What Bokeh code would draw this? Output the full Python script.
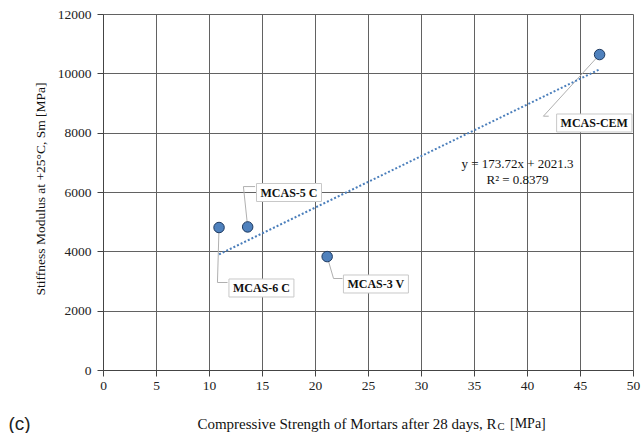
from bokeh.plotting import figure
from bokeh.layouts import column, row
from bokeh.models import Range1d, FixedTicker, Label
from bokeh.embed import file_html
from bokeh.resources import INLINE

# ---- data ----
names = ["MCAS-6 C", "MCAS-5 C", "MCAS-3 V", "MCAS-CEM"]
strength = [10.9, 13.6, 21.1, 46.8]          # Rc [MPa]
modulus = [4820, 4840, 3840, 10650]          # Sm [MPa]
slope = 173.72
intercept = 2021.3
r2 = 0.8379
x_ticks = [0, 5, 10, 15, 20, 25, 30, 35, 40, 45, 50]
y_ticks = [0, 2000, 4000, 6000, 8000, 10000, 12000]
x_title = "Compressive Strength of Mortars after 28 days, R"
x_title_sub = "C"
x_title_unit = "[MPa]"
y_title = "Stiffness Modulus at +25°C, Sm [MPa]"
tag = "(c)"

# ---- label layout (data coords) ----
label_pos = [(14.9, 2781), (17.5, 6000), (25.7, 2916), (46.3, 8343)]
leader_paths = [
    [(10.75, 2966), (11.7, 2966)],
    [(13.2, 6200), (14.3, 6200)],
    [(21.7, 3101), (22.55, 3101)],
    [(41.5, 8572), (42.0, 8572)],
]

SERIF = "Liberation Serif"
GRID = "#626262"
TXT = "#111111"

# ---------------- main plot ----------------
p = figure(width=590, height=400, output_backend="svg", toolbar_location=None,
           x_range=Range1d(0, 50), y_range=Range1d(0, 12000),
           min_border_left=51, min_border_right=9, min_border_top=14, min_border_bottom=30)
p.background_fill_color = "white"
p.border_fill_color = "white"
p.outline_line_color = GRID
p.outline_line_width = 1

for ax in (p.xaxis[0], p.yaxis[0]):
    ax.major_label_text_font = SERIF
    ax.major_label_text_font_size = "13.5px"
    ax.major_label_text_color = "#222222"
    ax.axis_line_color = "#444444"
    ax.major_tick_line_color = "#444444"
    ax.major_tick_in = 0
    ax.major_tick_out = 6
    ax.minor_tick_line_color = None
p.xaxis[0].major_label_standoff = 5
p.yaxis[0].major_label_standoff = 6

p.xaxis[0].ticker = FixedTicker(ticks=x_ticks)
p.yaxis[0].ticker = FixedTicker(ticks=y_ticks)
p.xgrid[0].ticker = FixedTicker(ticks=x_ticks)
p.ygrid[0].ticker = FixedTicker(ticks=y_ticks)
p.xgrid.grid_line_color = GRID
p.ygrid.grid_line_color = GRID
p.xgrid.grid_line_width = 1
p.ygrid.grid_line_width = 1

# leader lines (from each point to its label)
for (px, py), path in zip(zip(strength, modulus), leader_paths):
    xs = [px] + [q[0] for q in path]
    ys = [py] + [q[1] for q in path]
    p.line(xs, ys, line_color="#b0b0b0", line_width=1)

# trendline
tx = [min(strength), max(strength)]
ty = [slope * v + intercept for v in tx]
p.line(tx, ty, line_color="#4a7ebb", line_width=2, line_dash="2 2")

# points
p.scatter(strength, modulus, size=10.5, fill_color="#4F81BD", line_color="#1f3a60", line_width=1)

# data labels
for n, (lx, ly_) in zip(names, label_pos):
    p.add_layout(Label(x=lx, y=ly_, text=n, text_font=SERIF, text_font_size="12px",
                       text_font_style="bold", text_color=TXT,
                       text_align="center", text_baseline="middle",
                       background_fill_color="white", border_line_color="#c8c8c8",
                       padding={"left": 4, "right": 4, "top": 2, "bottom": 2}))

# equation
p.add_layout(Label(x=39.06, y=6978, text=f"y = {slope}x + {intercept}", text_font=SERIF,
                   text_font_size="13px", text_align="center", text_baseline="middle",
                   text_color=TXT))
p.add_layout(Label(x=39.06, y=6439, text=f"R² = {r2}", text_font=SERIF,
                   text_font_size="13px", text_align="center", text_baseline="middle",
                   text_color=TXT))

# ---------------- y title strip (left) ----------------
ly = figure(width=52, height=400, output_backend="svg", toolbar_location=None,
            x_range=Range1d(0, 52), y_range=Range1d(0, 400),
            x_axis_type=None, y_axis_type=None, min_border=0)
ly.outline_line_color = None
ly.grid.visible = False
ly.add_layout(Label(x=40, y=204, text=y_title, angle=90, angle_units="deg",
                    text_font=SERIF, text_font_size="13.5px", text_align="center",
                    text_baseline="middle", text_color=TXT))

# ---------------- x title strip (bottom) ----------------
bx = figure(width=642, height=33, output_backend="svg", toolbar_location=None,
            x_range=Range1d(0, 642), y_range=Range1d(0, 33),
            x_axis_type=None, y_axis_type=None, min_border=0)
bx.outline_line_color = None
bx.grid.visible = False
bx.add_layout(Label(x=496, y=10, text=x_title, text_font=SERIF, text_font_size="15px",
                    text_align="right", text_baseline="alphabetic", text_color=TXT))
bx.add_layout(Label(x=497, y=7, text=x_title_sub, text_font=SERIF, text_font_size="10.5px",
                    text_align="left", text_baseline="alphabetic", text_color=TXT))
bx.add_layout(Label(x=509.5, y=10, text=x_title_unit, text_font=SERIF, text_font_size="14px",
                    text_align="left", text_baseline="alphabetic", text_color=TXT))
bx.add_layout(Label(x=8, y=10, text=tag, text_font="Liberation Sans", text_font_size="19px",
                    text_align="left", text_baseline="alphabetic", text_color="#222222"))

layout = column(row(ly, p, spacing=0), bx, spacing=0)
open("out.html", "w").write(file_html(layout, INLINE))
